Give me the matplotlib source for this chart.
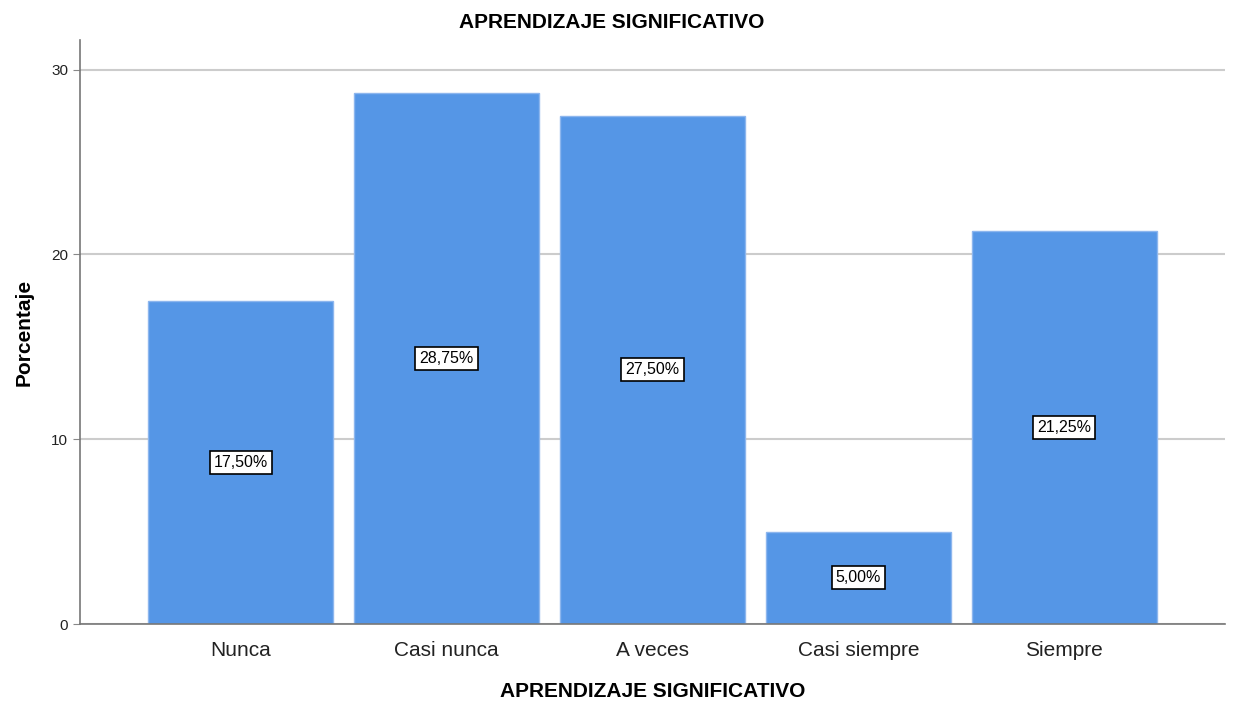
import matplotlib
matplotlib.use("Agg")
import matplotlib.pyplot as plt

categories = ["Nunca", "Casi nunca", "A veces", "Casi siempre", "Siempre"]
values = [17.50, 28.75, 27.50, 5.00, 21.25]
labels = ["17,50%", "28,75%", "27,50%", "5,00%", "21,25%"]
yticks = [0, 10, 20, 30]

plt.rcParams['font.family'] = ['Liberation Sans', 'DejaVu Sans']

fig = plt.figure(figsize=(12.33, 7.06), dpi=100)
ax = fig.add_axes([80/1233, 1-624/706, (1225-80)/1233, (624-40)/706])

x = list(range(len(categories)))
ax.bar(x, values, width=0.9, color="#5596E6", edgecolor="#8DB6EE", linewidth=1, zorder=2)
for xi, v, lab in zip(x, values, labels):
    ax.text(xi, v/2, lab, ha="center", va="center", fontsize=11.5, color="black", zorder=3,
            bbox=dict(boxstyle="square,pad=0.25", facecolor="white", edgecolor="black", linewidth=1.2))

ax.set_xlim(-0.78, 4.78)
ax.set_ylim(0, 31.6)
ax.set_yticks(yticks)
ax.set_xticks(x)
ax.set_xticklabels(categories, fontsize=15, color="#222222")
ax.tick_params(axis="y", labelsize=11, length=5, color="#888888", labelcolor="#222222")
ax.tick_params(axis="x", length=0, pad=12)
ax.grid(axis="y", color="#CCCCCC", linewidth=1.5, zorder=0)
ax.set_axisbelow(True)
for s in ["top", "right"]:
    ax.spines[s].set_visible(False)
ax.spines["left"].set_color("#777777")
ax.spines["bottom"].set_color("#777777")
ax.spines["left"].set_linewidth(1.2)
ax.spines["bottom"].set_linewidth(1.2)

ax.set_ylabel("Porcentaje", fontsize=15, fontweight="bold", labelpad=13)
ax.set_xlabel("APRENDIZAJE SIGNIFICATIVO", fontsize=15, fontweight="bold", labelpad=16)
fig.text(612/1233, 1-23/706, "APRENDIZAJE SIGNIFICATIVO", ha="center", va="center",
         fontsize=15, fontweight="bold")

fig.savefig("out.png", dpi=100)
